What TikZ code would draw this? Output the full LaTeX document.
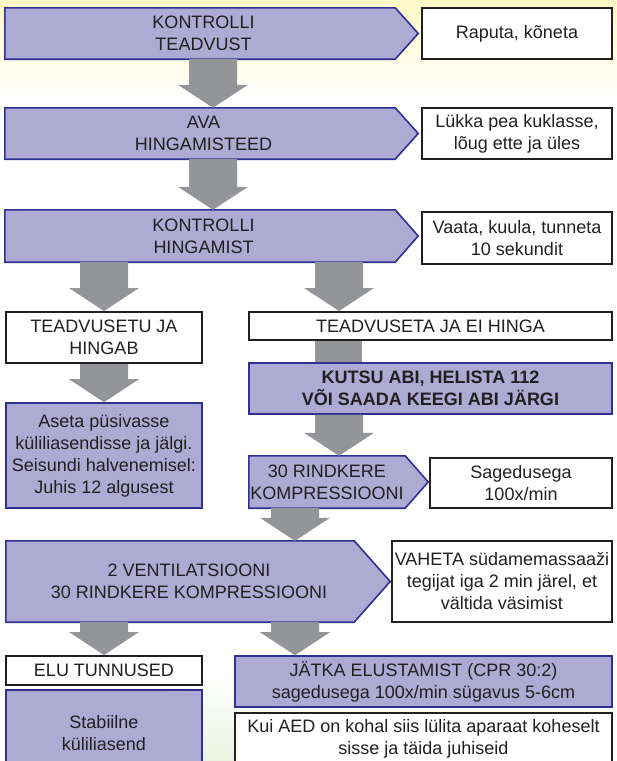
\documentclass[tikz,border=0pt]{standalone}
\usepackage{fontspec}
\setmainfont{Liberation Sans}
\usetikzlibrary{calc}
\definecolor{cprLilac}{HTML}{ADAAD4}
\definecolor{cprNavy}{HTML}{2E3192}
\definecolor{cprGrey}{HTML}{939598}
\definecolor{cprInk}{HTML}{231F20}
\definecolor{cprYellow}{HTML}{FFF8C6}
\definecolor{cprGreen}{HTML}{E2F0D6}
\pgfdeclarelayer{background}
\pgfsetlayers{background,main}
\newcommand\cprdown[3]{\path[fill=cprGrey] let \p1=(#2.south), \p2=(#3.north) in (#1pt-24pt,\y1) -- (#1pt+24pt,\y1) -- (#1pt+24pt,\y2+23pt) -- (#1pt+35pt,\y2+23pt) -- (#1pt,\y2) -- (#1pt-35pt,\y2+23pt) -- (#1pt-24pt,\y2+23pt) -- cycle;}
\newcommand\cprtip[3][0]{\begin{pgfonlayer}{background}\path[draw=cprNavy,fill=cprLilac,line width=1.6pt] ([xshift=-#1pt]#2.north west) -- (#2.north east) -- ([xshift=#3pt]#2.east) -- (#2.south east) -- ([xshift=-#1pt]#2.south west) -- cycle;\end{pgfonlayer}}

\begin{document}
\begin{tikzpicture}[x=1pt,y=-1pt,font=\fontsize{18}{22}\selectfont,text=cprInk]
\useasboundingbox (0,0) rectangle (617,761);
\begin{pgfonlayer}{background}
\path[fill=white] (0,0) rectangle (617,761);
\path[top color=cprYellow,bottom color=white] (0,0) rectangle (617,100);
\path[inner color=cprGreen,outer color=white] (220,790) circle (120);
\end{pgfonlayer}
\tikzset{lilac/.style={draw=cprNavy,fill=cprLilac,line width=1.6pt,inner sep=0pt,align=center},plain/.style={draw=cprInk,fill=white,line width=2pt,inner sep=0pt,align=center},tipbox/.style={inner sep=0pt,align=center}}
\node[tipbox,minimum width=383,minimum height=51] (teadvus) at (203.5,33.5) {KONTROLLI\\TEADVUST};
\node[plain,minimum width=190,minimum height=51] (raputa) at (517,33.5) {Raputa, kõneta};
\node[tipbox,minimum width=383,minimum height=51] (avamine) at (203.5,133.5) {AVA\\HINGAMISTEED};
\node[plain,minimum width=190,minimum height=51] (lykka) at (517,133.5) {Lükka pea kuklasse,\\lõug ette ja üles};
\node[tipbox,minimum width=383,minimum height=52] (hingamine) at (203.5,236) {KONTROLLI\\HINGAMIST};
\node[plain,minimum width=190,minimum height=52] (vaata) at (517,238) {Vaata, kuula, tunneta\\10 sekundit};
\node[plain,minimum width=196,minimum height=51] (hingab) at (104,337.5) {TEADVUSETU JA\\HINGAB};
\node[plain,minimum width=363,minimum height=28] (eihinga) at (430.5,326) {TEADVUSETA JA EI HINGA};
\node[lilac,minimum width=363,minimum height=51,font=\fontsize{18}{22}\selectfont\bfseries] (kutsu) at (430.5,388.5) {KUTSU ABI, HELISTA 112\\VÕI SAADA KEEGI ABI JÄRGI};
\node[lilac,minimum width=196,minimum height=105] (aseta) at (104,455.5) {Aseta püsivasse\\küliliasendisse ja jälgi.\\Seisundi halvenemisel:\\Juhis 12 algusest};
\node[tipbox,minimum width=156,minimum height=52] (kompr) at (327,482) {30 RINDKERE\\KOMPRESSIOONI};
\node[plain,minimum width=182,minimum height=50] (sagedus) at (521,483) {Sagedusega\\100x/min};
\node[tipbox,minimum width=330,minimum height=81] (ventil) at (189,581.5) {2 VENTILATSIOONI\\30 RINDKERE KOMPRESSIOONI};
\node[plain,minimum width=220,minimum height=81] (vaheta) at (502,581.5) {VAHETA südamemassaaži\\tegijat iga 2 min järel, et\\vältida väsimist};
\node[plain,minimum width=196,minimum height=29] (elu) at (104,670.5) {ELU TUNNUSED};
\node[lilac,minimum width=196,minimum height=86] (stabiilne) at (104,733) {Stabiilne\\küliliasend};
\node[lilac,minimum width=377,minimum height=51] (jatka) at (423.5,681.5) {JÄTKA ELUSTAMIST (CPR 30:2)\\sagedusega 100x/min sügavus 5-6cm};
\node[plain,minimum width=377,minimum height=52] (aed) at (423.5,739) {Kui AED on kohal siis lülita aparaat koheselt\\sisse ja täida juhiseid};
\cprtip[7]{teadvus}{23} \cprtip[7]{avamine}{23} \cprtip[7]{hingamine}{23}
\cprtip{kompr}{23} \cprtip[18]{ventil}{36}
\cprdown{213}{teadvus}{avamine}
\cprdown{213}{avamine}{hingamine}
\cprdown{104}{hingamine}{hingab}
\cprdown{339}{hingamine}{eihinga}
\path[fill=cprGrey] (315,0 |- eihinga.south) rectangle (362,0 |- kutsu.north);
\cprdown{104}{hingab}{aseta}
\cprdown{339}{kutsu}{kompr}
\cprdown{295}{kompr}{ventil}
\cprdown{104}{ventil}{elu}
\cprdown{295}{ventil}{jatka}
\end{tikzpicture}
\end{document}
